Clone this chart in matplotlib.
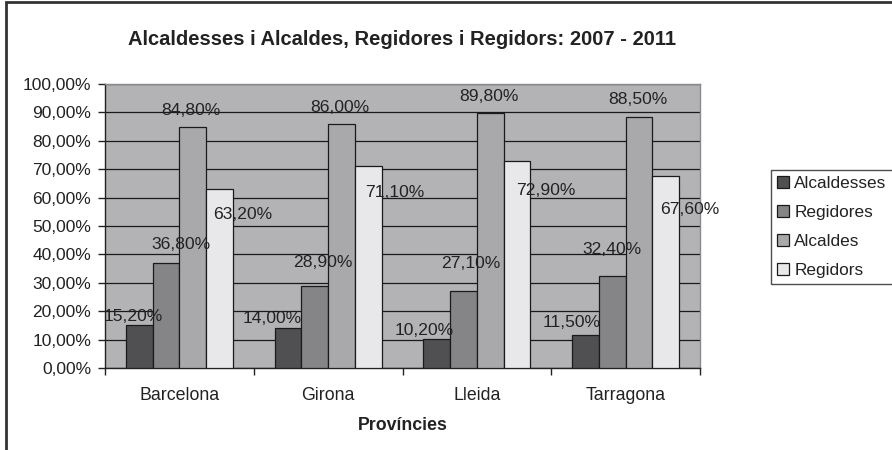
import numpy as np
import matplotlib.pyplot as plt
from matplotlib.patches import Rectangle
from matplotlib.ticker import FuncFormatter, MultipleLocator

plt.rcParams['font.family'] = ['Liberation Sans', 'DejaVu Sans']

provincies = ['Barcelona', 'Girona', 'Lleida', 'Tarragona']
series_names = ['Alcaldesses', 'Regidores', 'Alcaldes', 'Regidors']
alcaldesses = [15.2, 14.0, 10.2, 11.5]
regidores = [36.8, 28.9, 27.1, 32.4]
alcaldes = [84.8, 86.0, 89.8, 88.5]
regidors = [63.2, 71.1, 72.9, 67.6]

colors = ['#505052', '#858587', '#a9a9ab', '#e8e8ea']
# label offsets (points) relative to the bar top, as placed in the original
label_offsets = [
    [(-4, 6), (-11, 7), (-9, 6), (-10, 9)],
    [(11, 14), (6, 17), (5, 20), (0, 19)],
    [(-1, 12), (-1, 12), (-1, 12), (-1, 12)],
    [(17, -19), (19, -19), (21, -21), (17, -24)],
]

fig = plt.figure(figsize=(8.92, 4.5), dpi=100)
ax = fig.add_axes([105 / 892, 1 - 368 / 450, 595 / 892, 284 / 450])
ax.set_facecolor('#b3b3b5')

x = np.arange(len(provincies))
w = 0.18
data = [alcaldesses, regidores, alcaldes, regidors]
for i, vals in enumerate(data):
    pos = x + (i - 1.5) * w
    ax.bar(pos, vals, w, color=colors[i], edgecolor='#1a1a1a', linewidth=0.9,
           label=series_names[i], zorder=3)
    for j, v in enumerate(vals):
        dx, dy = label_offsets[i][j]
        ax.annotate(f'{v:.2f}%'.replace('.', ','), (pos[j], v),
                    xytext=(dx, dy), textcoords='offset points',
                    ha='center', va='center', fontsize=12.6, color='#222222',
                    zorder=4)

ax.set_xlim(-0.5, 3.5)
ax.set_ylim(0, 100)
ax.yaxis.set_major_locator(MultipleLocator(10))
ax.yaxis.set_major_formatter(FuncFormatter(lambda v, p: f'{v:.2f}%'.replace('.', ',')))
ax.yaxis.grid(True, color='#1a1a1a', linewidth=0.9, zorder=1)
ax.set_axisbelow(True)

ax.set_xticks(x)
ax.set_xticklabels(provincies)
ax.set_xticks(np.arange(-0.5, 4.0, 1.0), minor=True)
ax.tick_params(axis='x', which='major', length=0, pad=14, labelsize=12.8, labelcolor='#222222')
ax.tick_params(axis='x', which='minor', length=5, width=1, color='#222222')
ax.tick_params(axis='y', length=5, width=1, color='#222222', labelsize=12.5, labelcolor='#222222', pad=5)

for s in ['top', 'right']:
    ax.spines[s].set_color('#8a8a8c')
    ax.spines[s].set_linewidth(1)
for s in ['left', 'bottom']:
    ax.spines[s].set_color('#222222')
    ax.spines[s].set_linewidth(1)

ax.set_xlabel('Províncies', fontsize=12.8, fontweight='bold', color='#222222', labelpad=9)
ax.set_title('Alcaldesses i Alcaldes, Regidores i Regidors: 2007 - 2011',
             fontsize=14.5, fontweight='bold', color='#222222', pad=28)

leg = fig.legend(loc='upper left', bbox_to_anchor=(771 / 892, 1 - 170 / 450),
                 frameon=True, fancybox=False, fontsize=12.4, handlelength=0.7,
                 handleheight=0.7, handletextpad=0.3, labelspacing=0.8,
                 borderpad=0.35, borderaxespad=0)
leg.get_frame().set_edgecolor('#222222')
leg.get_frame().set_linewidth(1)
for t in leg.get_texts():
    t.set_color('#222222')

# outer chart border (only top and left visible in the original crop)
fig.add_artist(Rectangle((6 / 892, -0.1), 1.2, 1 - 2 / 450 + 0.1,
                         transform=fig.transFigure, fill=False,
                         edgecolor='#333333', linewidth=2))

fig.savefig('out.png', dpi=100)
